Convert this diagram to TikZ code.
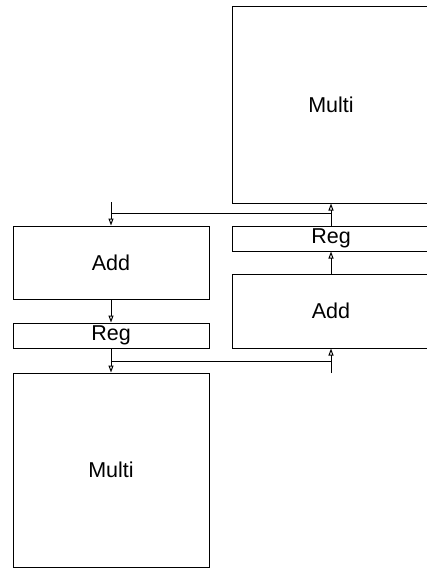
\documentclass[tikz,border=0pt]{standalone}
\usepackage{fontspec}
\setmainfont{Liberation Sans}
\usetikzlibrary{arrows.meta}
\begin{document}
\begin{tikzpicture}[x=1pt,y=-1pt,
  blk/.style={draw, line width=1pt, rectangle, inner sep=0pt, font=\fontsize{21.5}{23}\selectfont},
  wire/.style={line width=1pt},
  arr/.style={wire, -{Triangle[open,length=7pt,width=5pt]}}]
\clip (0,0) rectangle (427,568);
\useasboundingbox (0,0) rectangle (427,568);
% right column (cut at the right edge)
\node[blk, minimum width=198pt, minimum height=197pt] (m1) at (331,104.5) {Multi};
\node[blk, minimum width=198pt, minimum height=25pt] (r1) at (331,238.5) {Reg};
\node[blk, minimum width=198pt, minimum height=74pt] (a1) at (331,311) {Add};
% left column
\node[blk, minimum width=196pt, minimum height=73pt] (a2) at (111,262.5) {Add};
\node[blk, minimum width=196pt, minimum height=25pt] (r2) at (111,335.5) {Reg};
\node[blk, minimum width=196pt, minimum height=194pt] (m2) at (111,470) {Multi};
% free ends and junctions
\coordinate (inL) at (111,202);
\coordinate (inR) at (331,373);
\coordinate (jU) at (331,213);
\coordinate (jUL) at (111,213);
\coordinate (jD) at (111,361);
\coordinate (jDR) at (331,361);
% connectors
\draw[arr] (r1.north) -- (m1.south);
\draw[wire] (jU) -- (jUL);
\draw[arr] (inL) -- (a2.north);
\draw[arr] (a2.south) -- (r2.north);
\draw[arr] (a1.north) -- (r1.south);
\draw[arr] (r2.south) -- (m2.north);
\draw[wire] (jD) -- (jDR);
\draw[arr] (inR) -- (a1.south);
\end{tikzpicture}
\end{document}
